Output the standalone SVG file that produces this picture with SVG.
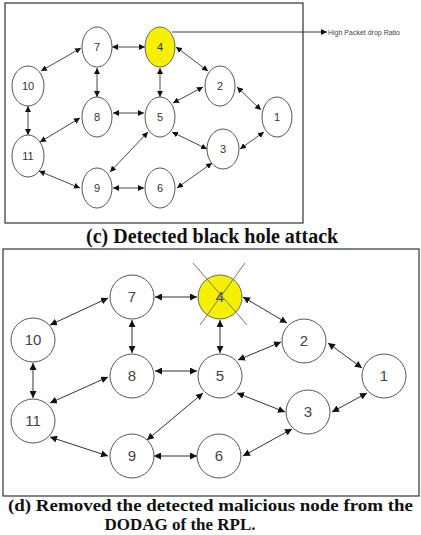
<svg xmlns="http://www.w3.org/2000/svg" width="421" height="535" viewBox="0 0 421 535">
<style>
.frame{fill:none;stroke:#333;stroke-width:1.2}
.n{fill:#fff;stroke:#555;stroke-width:1}
.mal{fill:#f5ef00;stroke:#666;stroke-width:1}
.t1{font-family:"Liberation Sans",Arial,sans-serif;font-size:11px;fill:#333;text-anchor:middle}
.t2{font-family:"Liberation Sans",Arial,sans-serif;font-size:15px;fill:#444;text-anchor:middle}
.e1{stroke:#333;stroke-width:0.9;fill:none;marker-start:url(#a1);marker-end:url(#a1)}
.e2{stroke:#333;stroke-width:1;fill:none;marker-start:url(#a2);marker-end:url(#a2)}
.cap{font-family:"Liberation Serif","Times New Roman",serif;font-size:20px;font-weight:bold;fill:#111}
.cap2{font-family:"Liberation Serif","Times New Roman",serif;font-size:17px;font-weight:bold;fill:#111;text-anchor:middle}
.x{stroke:#777;stroke-width:1}
</style>
<defs>
<marker id="a1" markerUnits="userSpaceOnUse" markerWidth="7" markerHeight="6" refX="6" refY="3" orient="auto-start-reverse"><path d="M0,0 L6,3 L0,6 Z" fill="#111"/></marker>
<marker id="a2" markerUnits="userSpaceOnUse" markerWidth="8" markerHeight="7" refX="7" refY="3.5" orient="auto-start-reverse"><path d="M0,0 L7,3.5 L0,7 Z" fill="#111"/></marker>
<marker id="a3" markerUnits="userSpaceOnUse" markerWidth="7" markerHeight="6" refX="6" refY="3" orient="auto"><path d="M0,0 L6,3 L0,6 Z" fill="#111"/></marker>
</defs>

<!-- Panel (c) -->
<rect class="frame" x="5" y="3" width="298" height="220"/>
<g id="edges-c">
<line class="e1" x1="112" y1="47" x2="145" y2="47"/>
<line class="e1" x1="81" y1="48" x2="41" y2="71"/>
<line class="e1" x1="97" y1="68" x2="97" y2="97"/>
<line class="e1" x1="160" y1="68" x2="160" y2="97"/>
<line class="e1" x1="176" y1="47" x2="208" y2="71"/>
<line class="e1" x1="28" y1="106" x2="28" y2="135"/>
<line class="e1" x1="113" y1="113" x2="144" y2="113"/>
<line class="e1" x1="80" y1="118" x2="40" y2="142"/>
<line class="e1" x1="173" y1="103" x2="203" y2="87"/>
<line class="e1" x1="148" y1="132" x2="110" y2="172"/>
<line class="e1" x1="172" y1="132" x2="207" y2="149"/>
<line class="e1" x1="237" y1="87" x2="261" y2="110"/>
<line class="e1" x1="264" y1="132" x2="240" y2="149"/>
<line class="e1" x1="113" y1="188" x2="144" y2="188"/>
<line class="e1" x1="39" y1="171" x2="80" y2="188"/>
<line class="e1" x1="177" y1="188" x2="212" y2="163"/>
<line stroke="#222" stroke-width="0.9" x1="172" y1="32" x2="327" y2="32" marker-end="url(#a3)"/>
</g>
<text x="328" y="35" font-family="'Liberation Sans',Arial,sans-serif" font-size="7" fill="#444">High Packet drop Ratio</text>
<g id="c-n7"><ellipse class="n" cx="97" cy="47" rx="15" ry="20"/><text class="t1" x="97" y="51">7</text></g>
<g id="c-n4"><ellipse class="mal" cx="160" cy="47" rx="15" ry="20"/><text class="t1" x="160" y="51">4</text></g>
<g id="c-n10"><ellipse class="n" cx="28" cy="86" rx="16" ry="20"/><text class="t1" x="28" y="90">10</text></g>
<g id="c-n2"><ellipse class="n" cx="220" cy="86" rx="15" ry="20"/><text class="t1" x="220" y="90">2</text></g>
<g id="c-n8"><ellipse class="n" cx="97" cy="117" rx="15" ry="20"/><text class="t1" x="97" y="121">8</text></g>
<g id="c-n5"><ellipse class="n" cx="160" cy="117" rx="15" ry="20"/><text class="t1" x="160" y="121">5</text></g>
<g id="c-n1"><ellipse class="n" cx="277" cy="117" rx="15" ry="20"/><text class="t1" x="277" y="121">1</text></g>
<g id="c-n11"><ellipse class="n" cx="28" cy="156" rx="16" ry="21"/><text class="t1" x="28" y="160">11</text></g>
<g id="c-n3"><ellipse class="n" cx="223" cy="149" rx="16" ry="20"/><text class="t1" x="223" y="153">3</text></g>
<g id="c-n9"><ellipse class="n" cx="97" cy="188" rx="15" ry="20"/><text class="t1" x="97" y="192">9</text></g>
<g id="c-n6"><ellipse class="n" cx="160" cy="188" rx="15" ry="20"/><text class="t1" x="160" y="192">6</text></g>
<text class="cap" x="86" y="243">(c) Detected black hole attack</text>

<!-- Panel (d) -->
<rect class="frame" x="3" y="249" width="416" height="247" stroke="#222"/>
<g id="edges-d">
<line class="e2" x1="155" y1="297" x2="197" y2="297"/>
<line class="e2" x1="108" y1="298" x2="50" y2="325"/>
<line class="e2" x1="132" y1="320" x2="132" y2="353"/>
<line class="e2" x1="220" y1="320" x2="220" y2="353"/>
<line class="e2" x1="243" y1="297" x2="287" y2="323"/>
<line class="e2" x1="33" y1="363" x2="33" y2="398"/>
<line class="e2" x1="155" y1="371" x2="197" y2="371"/>
<line class="e2" x1="108" y1="377" x2="50" y2="403"/>
<line class="e2" x1="238" y1="360" x2="281" y2="342"/>
<line class="e2" x1="203" y1="393" x2="147" y2="440"/>
<line class="e2" x1="237" y1="393" x2="285" y2="412"/>
<line class="e2" x1="328" y1="343" x2="362" y2="368"/>
<line class="e2" x1="367" y1="393" x2="332" y2="412"/>
<line class="e2" x1="154" y1="456" x2="197" y2="456"/>
<line class="e2" x1="50" y1="437" x2="108" y2="456"/>
<line class="e2" x1="243" y1="456" x2="292" y2="429"/>
</g>
<g id="d-n7"><circle class="n" cx="132" cy="297" r="22"/><text class="t2" x="132" y="302">7</text></g>
<g id="d-n4"><circle class="mal" cx="220" cy="297" r="22"/><text class="t2" x="220" y="302" fill="#333">4</text>
<line class="x" x1="193" y1="263" x2="247" y2="325"/><line class="x" x1="245" y1="263" x2="200" y2="325"/></g>
<g id="d-n10"><circle class="n" cx="33" cy="340" r="22"/><text class="t2" x="33" y="345">10</text></g>
<g id="d-n2"><circle class="n" cx="304" cy="341" r="22"/><text class="t2" x="304" y="346">2</text></g>
<g id="d-n8"><circle class="n" cx="132" cy="376" r="22"/><text class="t2" x="132" y="381">8</text></g>
<g id="d-n5"><circle class="n" cx="220" cy="376" r="22"/><text class="t2" x="220" y="381">5</text></g>
<g id="d-n1"><circle class="n" cx="384" cy="376" r="22"/><text class="t2" x="384" y="381">1</text></g>
<g id="d-n11"><circle class="n" cx="33" cy="421" r="22"/><text class="t2" x="33" y="426">11</text></g>
<g id="d-n3"><circle class="n" cx="308" cy="412" r="22"/><text class="t2" x="308" y="417">3</text></g>
<g id="d-n9"><circle class="n" cx="132" cy="456" r="22"/><text class="t2" x="132" y="461">9</text></g>
<g id="d-n6"><circle class="n" cx="219" cy="456" r="22"/><text class="t2" x="219" y="461">6</text></g>
<text class="cap2" x="210.5" y="511" textLength="405" lengthAdjust="spacingAndGlyphs">(d) Removed the detected malicious node from the</text>
<text class="cap2" x="180" y="530">DODAG of the RPL.</text>
</svg>
